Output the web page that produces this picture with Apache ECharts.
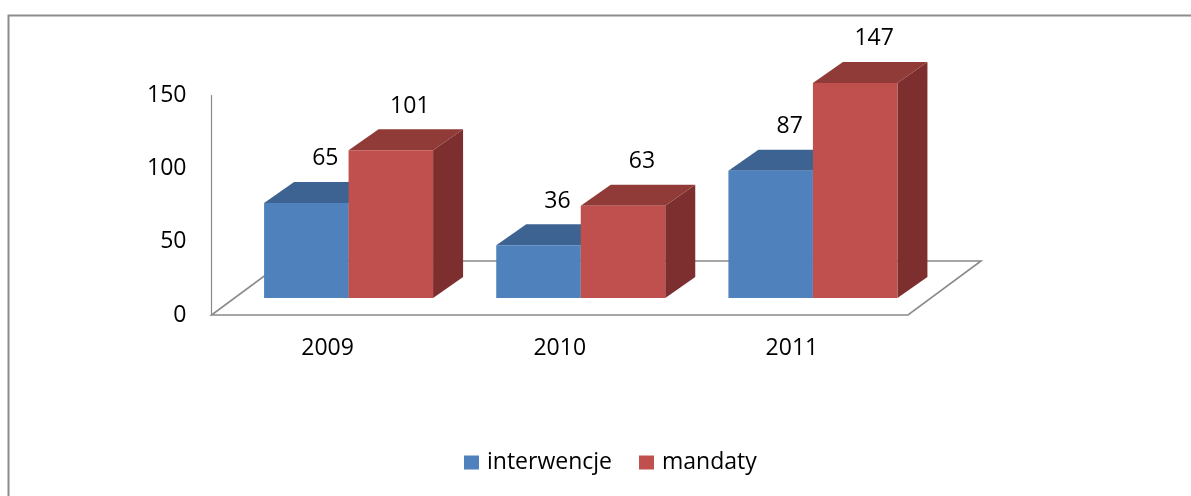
<!DOCTYPE html>
<html>
<head>
<meta charset="utf-8">
<script src="https://cdn.jsdelivr.net/npm/echarts@6/dist/echarts.min.js"></script>
<style>
html,body{margin:0;padding:0;background:#fff;}
#c{width:1191px;height:496px;}
</style>
</head>
<body>
<div id="c"></div>
<script>
const categories = ['2009', '2010', '2011'];
const interwencje = [65, 36, 87];
const mandaty = [101, 63, 147];
const seriesNames = ['interwencje', 'mandaty'];

const FONT = 'Open Sans';
const SHIFT_X = 21, SHIFT_Y = -17;   // bars sit inside the floor depth
const DEPTH_X = 30, DEPTH_Y = -21;   // bar 3D depth
const FLOOR_X = 73, FLOOR_Y = -54;   // floor depth
const BAR_RATIO = 0.364;

const palette = [
  { front: '#4F81BD', top: '#3D6392', side: '#385D8A' },
  { front: '#C0504D', top: '#913B39', side: '#7C2F2E' }
];

function barRender(k) {
  const c = palette[k];
  return function (params, api) {
    const cat = api.value(0), val = api.value(1);
    const base = api.coord([cat, 0]);
    const top = api.coord([cat, val]);
    const cw = api.size([1, 0])[0];
    const bw = cw * BAR_RATIO;
    const x0 = base[0] + SHIFT_X + (k - 1) * bw;
    const x1 = x0 + bw;
    const yb = base[1] + SHIFT_Y;
    const yt = top[1] + SHIFT_Y;
    return {
      type: 'group',
      children: [
        { type: 'polygon', shape: { points: [[x1, yb], [x1 + DEPTH_X, yb + DEPTH_Y], [x1 + DEPTH_X, yt + DEPTH_Y], [x1, yt]] }, style: { fill: c.side } },
        { type: 'polygon', shape: { points: [[x0, yt], [x1, yt], [x1 + DEPTH_X, yt + DEPTH_Y], [x0 + DEPTH_X, yt + DEPTH_Y]] }, style: { fill: c.top } },
        { type: 'rect', shape: { x: x0, y: yt, width: bw, height: yb - yt }, style: { fill: c.front } },
        { type: 'text', style: { text: String(val), x: x0 + bw / 2 + 19, y: yt - 44, align: 'center', verticalAlign: 'middle', fill: '#000', font: '23px "' + FONT + '"' } }
      ]
    };
  };
}

function floorRender(params, api) {
  const cs = params.coordSys;
  const fl = [cs.x, cs.y + cs.height];
  const fr = [cs.x + cs.width, cs.y + cs.height];
  const br = [fr[0] + FLOOR_X, fr[1] + FLOOR_Y];
  const bl = [fl[0] + FLOOR_X, fl[1] + FLOOR_Y];
  return {
    type: 'polygon',
    shape: { points: [fl, fr, br, bl] },
    style: { fill: 'none', stroke: '#8a8a8a', lineWidth: 1.6 }
  };
}

const chart = echarts.init(document.getElementById('c'), null, { renderer: 'canvas' });
chart.setOption({
  backgroundColor: '#fff',
  animation: false,
  graphic: [{
    type: 'rect', shape: { x: 8.5, y: 15.5, width: 1300, height: 600 },
    style: { fill: 'none', stroke: '#8c8c8c', lineWidth: 2 }, silent: true, z: -1
  }],
  legend: {
    data: seriesNames,
    left: 464, top: 451, padding: 0,
    itemWidth: 15, itemHeight: 14, itemGap: 27,
    icon: 'rect',
    textStyle: { fontFamily: FONT, fontSize: 23, color: '#000', lineHeight: 23, padding: [0, 0, 0, 3] }
  },
  grid: { left: 211.5, right: 283, top: 95.5, bottom: 181, containLabel: false },
  xAxis: {
    type: 'category', data: categories,
    axisLine: { show: false }, axisTick: { show: false },
    axisLabel: { fontFamily: FONT, fontSize: 23, color: '#000', margin: 22, lineHeight: 23 }
  },
  yAxis: {
    type: 'value', min: 0, max: 150, interval: 50,
    axisLine: { show: true, lineStyle: { color: '#8a8a8a', width: 1.2 } },
    axisTick: { show: false }, splitLine: { show: false },
    axisLabel: { fontFamily: FONT, fontSize: 23, color: '#000', margin: 25 }
  },
  series: [
    { type: 'custom', name: 'floor', renderItem: floorRender, data: [[0, 0]], silent: true, z: 1 },
    { type: 'custom', name: seriesNames[0], renderItem: barRender(0), itemStyle: { color: palette[0].front },
      encode: { x: 0, y: 1 }, data: interwencje.map((v, i) => [i, v]), z: 2 },
    { type: 'custom', name: seriesNames[1], renderItem: barRender(1), itemStyle: { color: palette[1].front },
      encode: { x: 0, y: 1 }, data: mandaty.map((v, i) => [i, v]), z: 3 }
  ]
});
</script>
</body>
</html>
